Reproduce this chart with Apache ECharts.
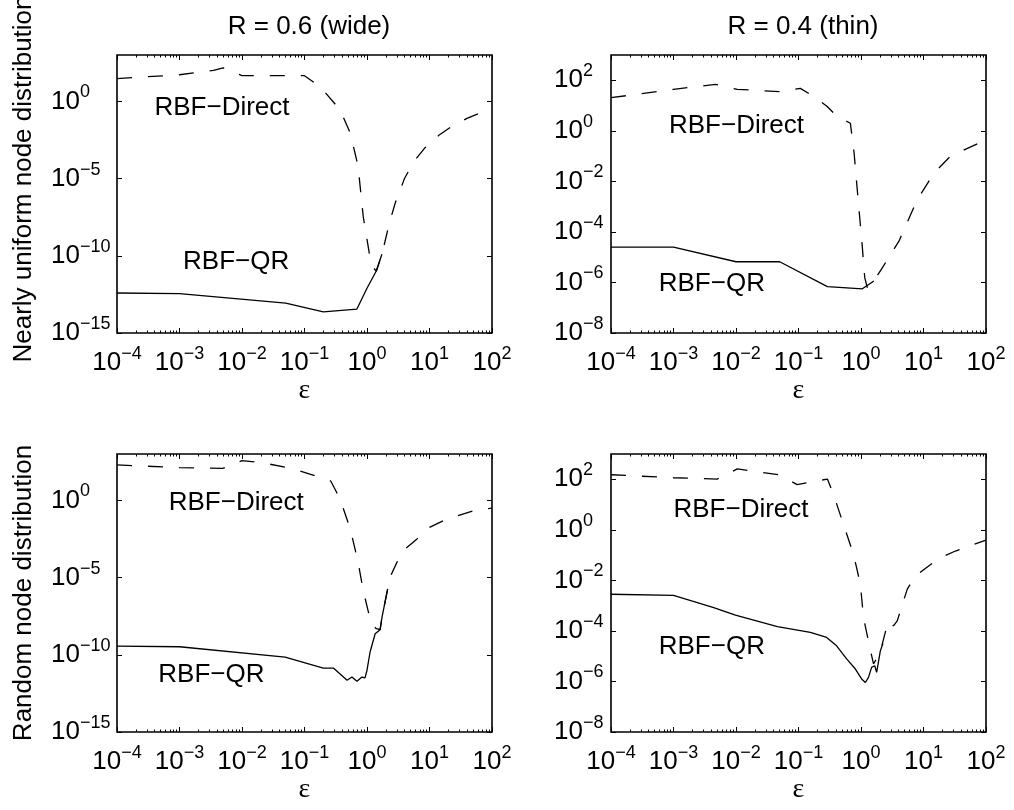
<!DOCTYPE html>
<html><head><meta charset="utf-8">
<script src="https://cdn.jsdelivr.net/npm/echarts@6/dist/echarts.min.js"></script>
<style>html,body{margin:0;padding:0;background:#fff;}#c{width:1014px;height:810px;}</style>
</head><body><div id="c"></div>
<script>
// ---------- data (epsilon values and errors) ----------
const tlDirectEps = [1e-4, 1e-3, 3.5e-3, 5e-3, 1e-2, 0.1, 0.18, 0.37, 0.54, 0.72, 0.87, 1.17, 1.41, 1.74, 2.24, 2.82, 3.98, 5.62, 8.5, 14.1, 21.4, 39.8, 100];
const tlDirectErr = [29.5, 52.5, 102, 145, 45.7, 45.7, 8.5, 0.288, 8.9e-3, 6.3e-5, 3.5e-8, 2.5e-11, 1e-11, 1.26e-10, 1e-8, 2.5e-7, 1e-5, 1.26e-4, 1e-3, 6.3e-3, 2e-2, 7.9e-2, 0.355];
const tlQrEps = [1e-4, 1e-3, 0.05, 0.2, 0.69, 1.0, 1.4, 1.73];
const tlQrErr = [3.9e-13, 3.55e-13, 8.7e-14, 2.3e-14, 3.55e-14, 7.9e-13, 1e-11, 1.26e-10];

const trDirectEps = [1e-4, 1e-3, 4.7e-3, 1.05e-2, 5.1e-2, 0.107, 0.178, 0.288, 0.417, 0.676, 0.776, 0.871, 1.047, 1.148, 1.26, 1.61, 2.19, 4.05, 7.94, 14.8, 26.9, 100];
const trDirectErr = [20.4, 43.7, 69.2, 43.7, 35.5, 47.9, 22.4, 9.12, 3.63, 2.0, 0.132, 4.7e-3, 2.75e-5, 1.55e-6, 6.3e-7, 1.15e-6, 3.8e-6, 4.3e-5, 1.9e-3, 2.14e-2, 9.8e-2, 0.437];
const trQrEps = [1e-4, 1e-3, 1e-2, 5e-2, 0.29, 1.05, 1.61];
const trQrErr = [2.5e-5, 2.5e-5, 6.6e-6, 6.6e-6, 6.8e-7, 5.6e-7, 1.15e-6];

const blDirectEps = [1e-4, 1e-3, 4.9e-3, 1e-2, 1.95e-2, 5.9e-2, 0.19, 0.263, 0.37, 0.54, 0.72, 0.87, 1.17, 1.41, 1.62, 1.74, 2.14, 2.34, 3.02, 4.07, 6.31, 10, 19.1, 51.3, 100];
const blDirectErr = [195, 132, 117, 372, 288, 123, 28.2, 17.8, 1.23, 1.41e-2, 1e-4, 1.45e-6, 1.02e-8, 4.9e-9, 4.2e-9, 2.75e-8, 1.86e-6, 1.05e-5, 1e-4, 7.2e-4, 3.16e-3, 1.78e-2, 6.3e-2, 0.214, 0.316];
const blQrEps = [1e-4, 1e-3, 4.9e-2, 0.2, 0.29, 0.48, 0.575, 0.69, 0.83, 0.93, 1.0, 1.12, 1.35, 1.62, 1.74, 2.14];
const blQrErr = [3.63e-10, 3.3e-10, 7.1e-11, 1.38e-11, 1.38e-11, 2.24e-12, 3.63e-12, 1.9e-12, 3.63e-12, 3.16e-12, 1e-11, 1.51e-10, 2.29e-9, 4.17e-9, 2.75e-8, 1.86e-6];

const brDirectEps = [1e-4, 1e-3, 5e-3, 1.05e-2, 4.9e-2, 9.5e-2, 0.29, 0.363, 0.525, 0.759, 0.977, 1.096, 1.38, 1.585, 2.0, 2.63, 2.95, 3.31, 3.8, 5.5, 7.41, 11.5, 18.6, 32.4, 100];
const brDirectErr = [151, 115, 102, 257, 151, 61.7, 102, 25.1, 1.62, 0.107, 7.1e-3, 3.4e-4, 2.24e-5, 5e-6, 1.26e-5, 1.78e-4, 2.5e-4, 1.58e-4, 2.5e-4, 4.5e-3, 1.48e-2, 3.4e-2, 7.9e-2, 0.145, 0.39];
const brQrEps = [1e-4, 1e-3, 4.4e-3, 9.8e-3, 4.6e-2, 0.155, 0.282, 0.407, 0.589, 0.813, 1.023, 1.175, 1.318, 1.479, 1.66, 1.778, 2.04, 2.24];
const brQrErr = [2.82e-3, 2.57e-3, 8.3e-4, 4.2e-4, 1.48e-4, 8.7e-5, 5.5e-5, 2.57e-5, 7.8e-6, 3.1e-6, 1.26e-6, 9.1e-7, 1.45e-6, 3.6e-6, 4.2e-6, 2.3e-6, 1.62e-5, 3.16e-5];

// annotation anchors (data coordinates, left edge / vertical middle of the text)
const annDirectEps = [3.9e-4, 8.3e-4, 6.6e-4, 9.8e-4];
const annDirectErr = [0.39, 1.58, 0.74, 6.0];
const annQrEps = [1.12e-3, 5.7e-4, 4.5e-4, 5.7e-4];
const annQrErr = [4.2e-11, 8.5e-7, 4.7e-12, 2.4e-5];

// tick labels (powers of ten)
const xTickExp = [-4, -3, -2, -1, 0, 1, 2];
const leftYTickExp = [-15, -10, -5, 0];
const rightYTickExp = [-8, -6, -4, -2, 0, 2];
const xRange = [1e-4, 1e2];
const leftYRange = [1e-15, 1e3];
const rightYRange = [1e-8, 1e3];

const titles = ['R = 0.6 (wide)', 'R = 0.4 (thin)'];
const rowLabels = ['Nearly uniform node distribution', 'Random node distribution'];
const xName = 'ε';
const directText = 'RBF\u2212Direct';
const qrText = 'RBF\u2212QR';

// ---------- build ----------
const FONT = 'Liberation Sans, Arial, Helvetica, sans-serif';
const pow10 = e => Math.pow(10, e);
const xMajor = xTickExp.map(pow10);
const xMinor = [];
for (let e = xTickExp[0]; e < xTickExp[xTickExp.length - 1]; e++) {
  for (let m = 2; m <= 9; m++) xMinor.push(m * Math.pow(10, e));
}
function expLabel(v) {
  const e = Math.round(Math.log10(v));
  const s = e < 0 ? '\u2212' + (-e) : String(e);
  return '{b|10}{s|' + s + '}';
}
const rich = {
  b: { fontSize: 26, fontFamily: FONT, color: '#000', lineHeight: 36 },
  s: { fontSize: 18, fontFamily: FONT, color: '#000', verticalAlign: 'top', lineHeight: 18 }
};

const grids = [
  { left: 117, top: 55, width: 375, height: 278 },
  { left: 611, top: 55, width: 375, height: 278 },
  { left: 117, top: 454, width: 375, height: 278 },
  { left: 611, top: 454, width: 375, height: 278 }
];
const panels = [
  { dE: tlDirectEps, dV: tlDirectErr, qE: tlQrEps, qV: tlQrErr, yR: leftYRange, yT: leftYTickExp, left: true, row: 0 },
  { dE: trDirectEps, dV: trDirectErr, qE: trQrEps, qV: trQrErr, yR: rightYRange, yT: rightYTickExp, left: false, row: 0 },
  { dE: blDirectEps, dV: blDirectErr, qE: blQrEps, qV: blQrErr, yR: leftYRange, yT: leftYTickExp, left: true, row: 1 },
  { dE: brDirectEps, dV: brDirectErr, qE: brQrEps, qV: brQrErr, yR: rightYRange, yT: rightYTickExp, left: false, row: 1 }
];

const xAxes = [], yAxes = [], series = [];
const tickStyle = { color: '#000', width: 1 };
panels.forEach((p, i) => {
  const base = { type: 'log', logBase: 10, gridIndex: i, min: xRange[0], max: xRange[1],
    splitLine: { show: false }, axisLine: { show: false } };
  xAxes.push(Object.assign({}, base, {
    position: 'bottom',
    axisTick: { show: true, inside: true, length: 5, lineStyle: tickStyle, customValues: xMajor },
    axisLabel: { show: true, customValues: xMajor, margin: 12, formatter: expLabel, rich: rich, align: 'center' },
    name: xName, nameLocation: 'middle', nameGap: p.row === 0 ? 32 : 44,
    nameTextStyle: { fontSize: 28, fontFamily: 'Liberation Serif, DejaVu Serif, serif', color: '#000' }
  }));
  xAxes.push(Object.assign({}, base, {
    position: 'top',
    axisTick: { show: true, inside: true, length: 5, lineStyle: tickStyle, customValues: xMajor },
    axisLabel: { show: false }
  }));
  xAxes.push(Object.assign({}, base, {
    position: 'bottom',
    axisTick: { show: true, inside: true, length: 2.5, lineStyle: tickStyle, customValues: xMinor },
    axisLabel: { show: false }
  }));
  xAxes.push(Object.assign({}, base, {
    position: 'top',
    axisTick: { show: true, inside: true, length: 2.5, lineStyle: tickStyle, customValues: xMinor },
    axisLabel: { show: false }
  }));
  const yMajor = p.yT.map(pow10);
  const ybase = { type: 'log', logBase: 10, gridIndex: i, min: p.yR[0], max: p.yR[1],
    splitLine: { show: false }, axisLine: { show: false } };
  const yMain = Object.assign({}, ybase, {
    position: 'left',
    axisTick: { show: true, inside: true, length: 5, lineStyle: tickStyle, customValues: yMajor },
    axisLabel: { show: true, customValues: yMajor, margin: p.left ? 66 : 57, align: 'left', formatter: expLabel, rich: rich }
  });
  if (p.left) {
    Object.assign(yMain, { name: rowLabels[p.row], nameLocation: 'middle', nameGap: 80,
      nameTextStyle: { fontSize: 26, fontFamily: FONT, color: '#000',
        padding: p.row === 0 ? [0, 0, 0, 30] : [0, 0, 0, 0] } });
  }
  yAxes.push(yMain);
  yAxes.push(Object.assign({}, ybase, {
    position: 'right',
    axisTick: { show: true, inside: true, length: 5, lineStyle: tickStyle, customValues: yMajor },
    axisLabel: { show: false }
  }));

  series.push({ type: 'line', xAxisIndex: 4 * i, yAxisIndex: 2 * i, showSymbol: false, silent: true,
    data: p.dE.map((e, k) => [e, p.dV[k]]),
    lineStyle: { color: '#000', width: 1.3, type: [15, 16] } });
  series.push({ type: 'line', xAxisIndex: 4 * i, yAxisIndex: 2 * i, showSymbol: false, silent: true,
    data: p.qE.map((e, k) => [e, p.qV[k]]),
    lineStyle: { color: '#000', width: 1.3, type: 'solid' } });
  const annLabel = txt => ({ show: true, position: 'right', distance: 0, formatter: txt,
    fontSize: 26, fontFamily: FONT, color: '#000' });
  series.push({ type: 'scatter', xAxisIndex: 4 * i, yAxisIndex: 2 * i, silent: true, symbolSize: 1,
    itemStyle: { color: 'rgba(0,0,0,0)', opacity: 1 }, data: [[annDirectEps[i], annDirectErr[i]]], label: annLabel(directText) });
  series.push({ type: 'scatter', xAxisIndex: 4 * i, yAxisIndex: 2 * i, silent: true, symbolSize: 1,
    itemStyle: { color: 'rgba(0,0,0,0)', opacity: 1 }, data: [[annQrEps[i], annQrErr[i]]], label: annLabel(qrText) });
});

const chart = echarts.init(document.getElementById('c'), null, { renderer: 'canvas' });
chart.setOption({
  animation: false,
  backgroundColor: '#fff',
  title: [
    { text: titles[0], left: 304, top: 9, textAlign: 'center', textStyle: { fontSize: 26, fontWeight: 'normal', fontFamily: FONT, color: '#000' } },
    { text: titles[1], left: 798, top: 9, textAlign: 'center', textStyle: { fontSize: 26, fontWeight: 'normal', fontFamily: FONT, color: '#000' } }
  ],
  grid: grids.map(g => Object.assign({ show: true, borderColor: '#000', borderWidth: 1.6, backgroundColor: 'transparent',
    containLabel: false, outerBoundsMode: 'none' }, g)),
  xAxis: xAxes,
  yAxis: yAxes,
  series: series
});
</script>
</body></html>
